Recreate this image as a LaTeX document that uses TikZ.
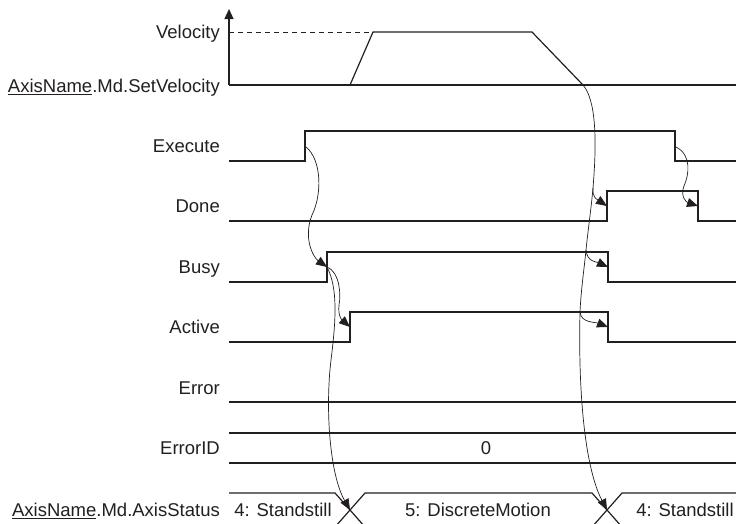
\documentclass[tikz,border=0pt]{standalone}
\usepackage{fontspec}
\setmainfont{Liberation Sans}
\usepackage{xcolor}
\usepackage{tikz}
\usetikzlibrary{arrows.meta,positioning,calc}
\definecolor{ink}{RGB}{35,31,32}

\tikzset{
  sig/.style={draw=ink, line width=1.2pt},
  cause/.style={draw=ink, line width=0.7pt, -{Triangle[length=11pt,width=9pt]}},
  lbl/.style={anchor=east, inner sep=0pt, text=ink, text height=13pt, text depth=0pt, font=\fontsize{18.5}{22}\selectfont},
  val/.style={inner sep=0pt, text=ink, text height=13pt, text depth=0pt, font=\fontsize{18.5}{22}\selectfont}
}

\begin{document}
\begin{tikzpicture}[x=1pt, y=-1pt]
    \useasboundingbox (0,0) rectangle (736,523);

    % Signal names
    \node[lbl] (lvel) at (220,32) {Velocity};
    \node[lbl] (lset) at (220,86) {\underline{AxisName}.Md.SetVelocity};
    \node[lbl] (lexe) at (220,146) {Execute};
    \node[lbl] (ldone) at (220,206) {Done};
    \node[lbl] (lbusy) at (220,267) {Busy};
    \node[lbl] (lact) at (220,327) {Active};
    \node[lbl] (lerr) at (220,388) {Error};
    \node[lbl] (lerrid) at (220,448) {ErrorID};
    \node[lbl] (lstat) at (220,510) {\underline{AxisName}.Md.AxisStatus};

    % Velocity axes
    \coordinate (orig) at (229,85);
    \coordinate (vtop) at (229,9);
    \coordinate (vend) at (746,85);
    \draw[sig, -{Triangle[length=10pt,width=9pt]}] (orig) -- (vtop);
    \draw[sig, -{Triangle[length=10pt,width=9pt]}] (orig) -- (vend);
    \draw[ink, line width=0.8pt, dash pattern=on 5pt off 4pt] (229,32) -- (373,32);
    \draw[sig] (350,85) -- (373,32) -- (532,32) -- (583,85);

    % Waveforms
    \draw[sig] (229,161) -- (305,161) -- (305,131) -- (675,131) -- (675,161) -- (736,161);
    \draw[sig] (229,221) -- (607,221) -- (607,191) -- (698,191) -- (698,221) -- (736,221);
    \draw[sig] (229,282) -- (327,282) -- (327,252) -- (608,252) -- (608,282) -- (736,282);
    \draw[sig] (229,342) -- (350,342) -- (350,312) -- (608,312) -- (608,342) -- (736,342);
    \draw[sig] (229,402) -- (736,402);
    \draw[sig] (229,433) -- (736,433);
    \draw[sig] (229,463) -- (736,463);
    \node[val] (errid) at (486,448) {0};

    % Axis status
    \draw[sig] (229,493) -- (335,493) -- (365,527);
    \draw[sig] (335,527) -- (365,493) -- (592,493) -- (622,527);
    \draw[sig] (592,527) -- (622,493) -- (736,493);
    \node[val] (st1) at (283,510) {4: Standstill};
    \node[val] (st2) at (478,510) {5: DiscreteMotion};
    \node[val] (st3) at (685,510) {4: Standstill};

    % Edge points
    \coordinate (exeUp) at (306,147);
    \coordinate (busyUp) at (327,267);
    \coordinate (actUp) at (350,327);
    \coordinate (stat1) at (350,510);
    \coordinate (vStop) at (583,85);
    \coordinate (b1) at (593,188);
    \coordinate (b2) at (586,250);
    \coordinate (b3) at (580,312);
    \coordinate (doneUp) at (607,206);
    \coordinate (busyDn) at (608,267);
    \coordinate (actDn) at (608,327);
    \coordinate (stat2) at (607,510);
    \coordinate (exeDn) at (676,147);
    \coordinate (doneDn) at (698,206);

    % Cause arrows
    \draw[cause] (exeUp) .. controls (322,160) and (322,195) .. (312,215) .. controls (303,238) and (313,257) .. (busyUp);
    \draw[cause] (busyUp) .. controls (340,272) and (341,295) .. (339,305) .. controls (338,315) and (341,319) .. (actUp);
    \draw[cause] (busyUp) .. controls (338,288) and (336,320) .. (331,360) .. controls (325,410) and (330,475) .. (stat1);
    \draw[cause] (vStop) .. controls (596,100) and (597,140) .. (b1) .. controls (591,210) and (588,230) .. (b2) .. controls (584,270) and (581,290) .. (b3) .. controls (578,400) and (586,470) .. (stat2);
    \draw[cause] (b1) .. controls (592,198) and (598,200) .. (doneUp);
    \draw[cause] (b2) .. controls (587,262) and (597,262) .. (busyDn);
    \draw[cause] (b3) .. controls (581,323) and (595,322) .. (actDn);
    \draw[cause] (exeDn) .. controls (692,155) and (689,175) .. (684,186) .. controls (680,196) and (686,202) .. (doneDn);
\end{tikzpicture}
\end{document}
